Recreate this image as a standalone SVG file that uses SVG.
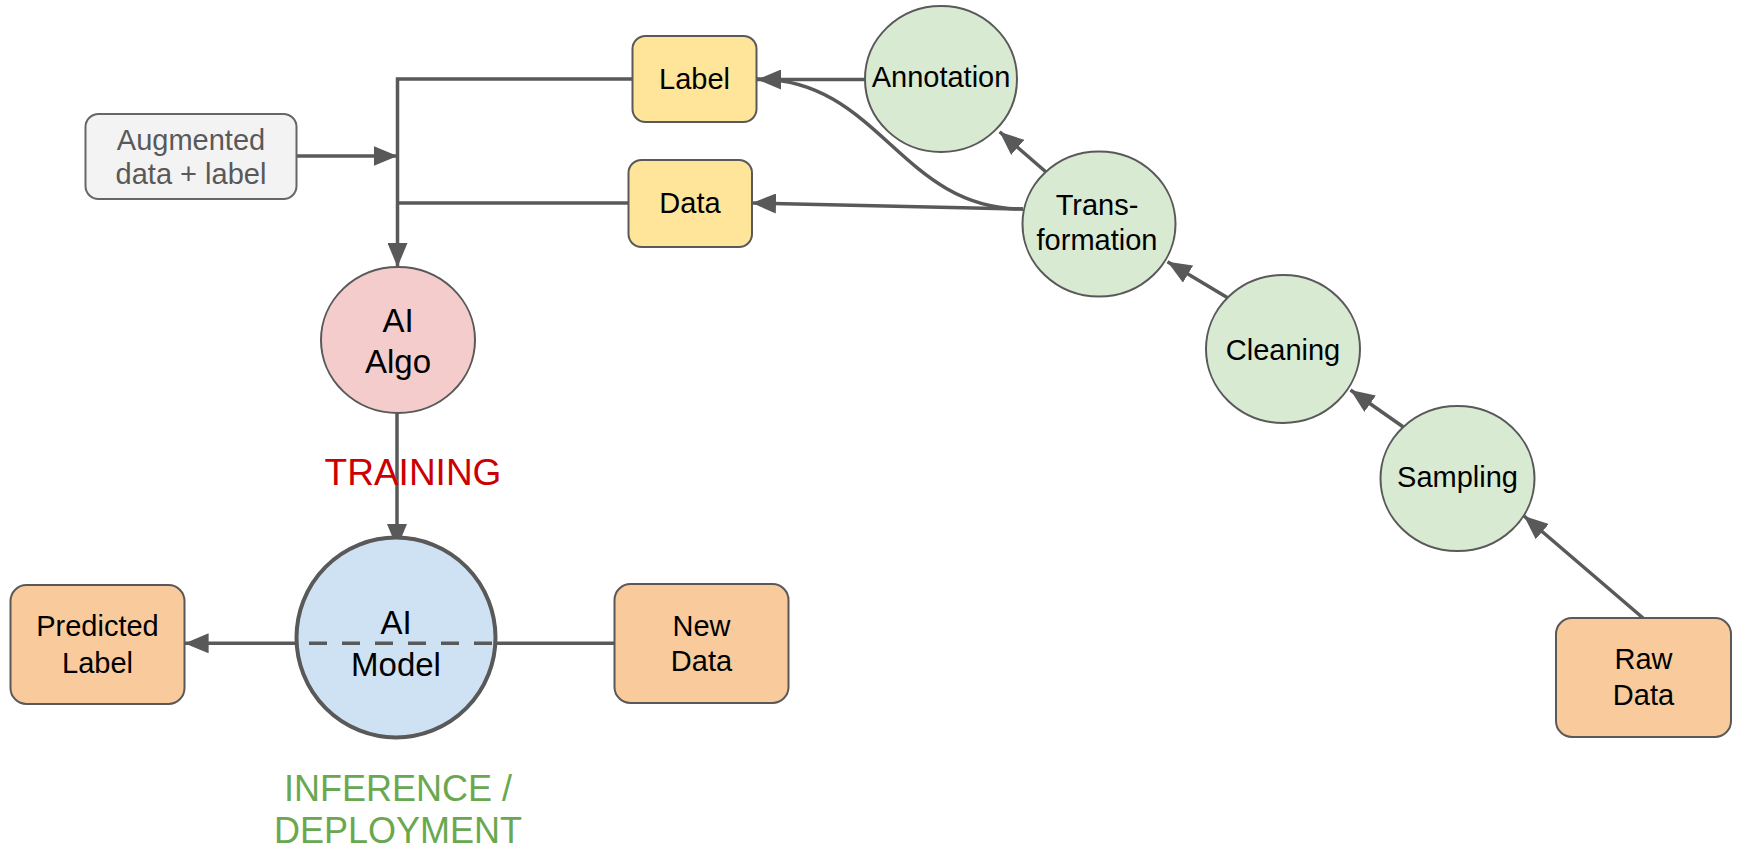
<svg xmlns="http://www.w3.org/2000/svg" width="1737" height="848" viewBox="0 0 1737 848">
<style>
  text { font-family: "Liberation Sans", Arial, sans-serif; text-anchor: middle; fill: #000; }
  .t { font-size: 29px; }
  .big { font-size: 33px; }
  .node { stroke: #595959; stroke-width: 2; }
  .green { fill: #d9ead3; }
  .yellow { fill: #ffe599; }
  .orange { fill: #f9cb9c; }
  .conn { fill: none; stroke: #595959; stroke-width: 3.5; }
</style>
<defs>
  <marker id="arr" markerUnits="userSpaceOnUse" markerWidth="24" markerHeight="20" refX="24" refY="10" orient="auto">
    <path d="M0,0 L24,10 L0,20 z" fill="#595959"/>
  </marker>
</defs>
<rect width="1737" height="848" fill="#fff"/>

<g id="connectors">
  <path class="conn" d="M632,79 H397.5 V267" marker-end="url(#arr)"/>
  <path class="conn" d="M628,203 H397.5"/>
  <path class="conn" d="M296.5,156 H397.5" marker-end="url(#arr)"/>
  <path class="conn" d="M865,79.5 L757,79.5" marker-end="url(#arr)"/>
  <path class="conn" d="M1023,209 C900,209 880,79 757,79"/>
  <path class="conn" d="M1023,209 L752,203" marker-end="url(#arr)"/>
  <path class="conn" d="M1046,172 L999.6,131.7" marker-end="url(#arr)"/>
  <path class="conn" d="M1228,298 L1167.5,261.7" marker-end="url(#arr)"/>
  <path class="conn" d="M1403,426.7 L1350.5,390" marker-end="url(#arr)"/>
  <path class="conn" d="M1643,618 L1524,516" marker-end="url(#arr)"/>
  <path class="conn" d="M397,413 V548" marker-end="url(#arr)"/>
  <path class="conn" d="M297,643.3 H184.6" marker-end="url(#arr)"/>
  <path class="conn" d="M495.5,643.3 H614.5"/>
</g>

<g id="augmented">
  <rect x="85.5" y="114" width="211" height="85" rx="13" fill="#f3f3f3" stroke="#666" stroke-width="2"/>
  <text class="t" x="191" y="149.5" style="fill:#595959">Augmented</text>
  <text class="t" x="191" y="184" style="fill:#595959">data + label</text>
</g>

<g id="label">
  <rect class="node yellow" x="632.5" y="36" width="124" height="86" rx="13"/>
  <text class="t" x="694.5" y="89">Label</text>
</g>

<g id="data">
  <rect class="node yellow" x="628.5" y="160" width="123.5" height="87" rx="13"/>
  <text class="t" x="690" y="213">Data</text>
</g>

<g id="annotation">
  <ellipse class="node green" cx="941" cy="79" rx="76" ry="73"/>
  <text class="t" x="941" y="87">Annotation</text>
</g>

<g id="transformation">
  <ellipse class="node green" cx="1099" cy="224" rx="76.5" ry="72.5"/>
  <text class="t" x="1097" y="215">Trans-</text>
  <text class="t" x="1097" y="250">formation</text>
</g>

<g id="cleaning">
  <ellipse class="node green" cx="1283" cy="349" rx="77" ry="74"/>
  <text class="t" x="1283" y="360">Cleaning</text>
</g>

<g id="sampling">
  <ellipse class="node green" cx="1457.5" cy="478.5" rx="77" ry="72.5"/>
  <text class="t" x="1457.5" y="487">Sampling</text>
</g>

<g id="rawdata">
  <rect class="node orange" x="1556" y="618" width="175" height="119" rx="16"/>
  <text class="t" x="1643.5" y="669">Raw</text>
  <text class="t" x="1643.5" y="705">Data</text>
</g>

<g id="aialgo">
  <ellipse class="node" cx="398" cy="340" rx="77" ry="73" fill="#f4cccc"/>
  <text class="big" x="398" y="332">AI</text>
  <text class="big" x="398" y="373">Algo</text>
</g>

<g id="training-label">
  <text x="413" y="485" style="font-size:37px;fill:#cc0000">TRAINING</text>
</g>

<g id="aimodel">
  <ellipse cx="396" cy="637.5" rx="99.5" ry="100" fill="#cfe2f3" stroke="#595959" stroke-width="4"/>
  <line x1="297" y1="643.3" x2="495.5" y2="643.3" stroke="#595959" stroke-width="3.5" stroke-dasharray="18,15" stroke-dashoffset="-12"/>
  <text class="big" x="396" y="634">AI</text>
  <text class="big" x="396" y="676">Model</text>
</g>

<g id="predicted">
  <rect class="node orange" x="10.5" y="585" width="174" height="119" rx="16"/>
  <text class="t" x="97.5" y="636">Predicted</text>
  <text class="t" x="97.5" y="673">Label</text>
</g>

<g id="newdata">
  <rect class="node orange" x="614.5" y="584" width="174" height="119" rx="16"/>
  <text class="t" x="701.5" y="636">New</text>
  <text class="t" x="701.5" y="671">Data</text>
</g>

<g id="inference-label">
  <text x="398" y="801" style="font-size:36px;fill:#6aa84f">INFERENCE /</text>
  <text x="398" y="843" style="font-size:36px;fill:#6aa84f">DEPLOYMENT</text>
</g>
</svg>
